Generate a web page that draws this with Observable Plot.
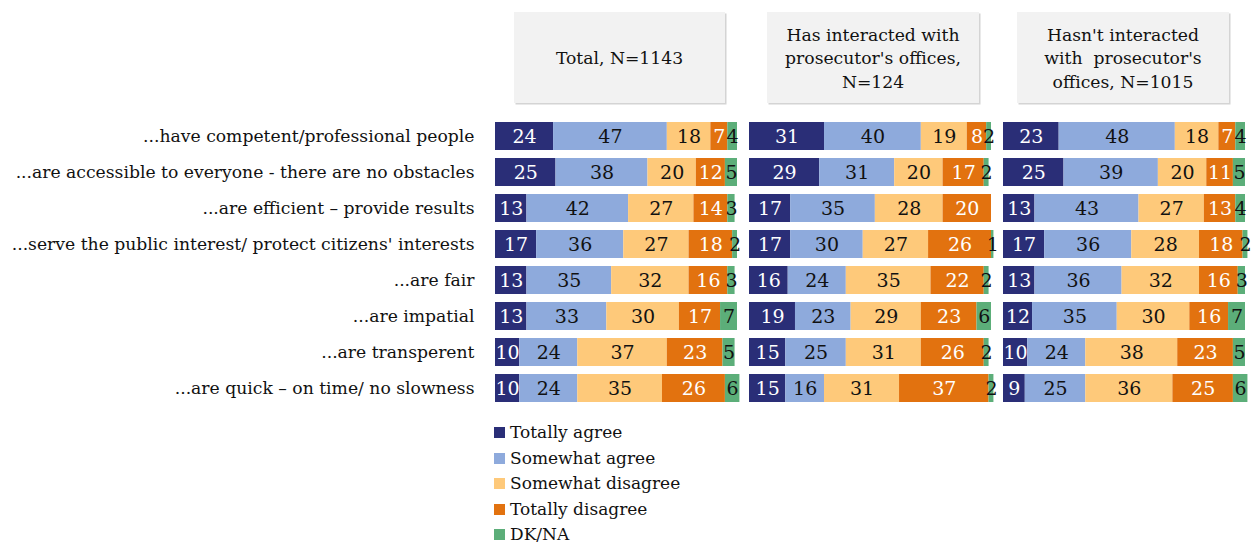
<!DOCTYPE html>
<html>
<head>
<meta charset="utf-8">
<script src="https://cdn.jsdelivr.net/npm/d3@7"></script>
<script src="https://cdn.jsdelivr.net/npm/@observablehq/plot@0.6"></script>
<style>
  body { margin: 0; background: #fff; }
  #wrap { position: relative; width: 1252px; height: 545px; font-family: "DejaVu Serif", serif; }
  #legend { position: absolute; left: 494px; top: 420px; font-size: 17px; color: #111; }
  #legend div { height: 25.5px; line-height: 25.5px; display: flex; align-items: center; }
  #legend span.sw { display: inline-block; width: 11px; height: 11px; margin-right: 5px; }
</style>
</head>
<body>
<div id="wrap"></div>
<script>
const statements = [
  "...have competent/professional people",
  "...are accessible to everyone - there are no obstacles",
  "...are efficient – provide results",
  "...serve the public interest/ protect citizens' interests",
  "...are fair",
  "...are impatial",
  "...are transperent",
  "...are quick – on time/ no slowness"
];
const categories = ["Totally agree", "Somewhat agree", "Somewhat disagree", "Totally disagree", "DK/NA"];
const colors = ["#2a2e77", "#8eaadc", "#fec97a", "#e2720f", "#5cae79"];
const groups = ["total", "interacted", "notInteracted"];
const headerLines = [
  ["Total, N=1143"],
  ["Has interacted with", "prosecutor's offices,", "N=124"],
  ["Hasn't interacted", "with  prosecutor's", "offices, N=1015"]
];
// values per statement: [Totally agree, Somewhat agree, Somewhat disagree, Totally disagree, DK/NA]
const totalValues = [
  [24, 47, 18, 7, 4],
  [25, 38, 20, 12, 5],
  [13, 42, 27, 14, 3],
  [17, 36, 27, 18, 2],
  [13, 35, 32, 16, 3],
  [13, 33, 30, 17, 7],
  [10, 24, 37, 23, 5],
  [10, 24, 35, 26, 6]
];
const interactedValues = [
  [31, 40, 19, 8, 2],
  [29, 31, 20, 17, 2],
  [17, 35, 28, 20, 0],
  [17, 30, 27, 26, 1],
  [16, 24, 35, 22, 2],
  [19, 23, 29, 23, 6],
  [15, 25, 31, 26, 2],
  [15, 16, 31, 37, 2]
];
const notInteractedValues = [
  [23, 48, 18, 7, 4],
  [25, 39, 20, 11, 5],
  [13, 43, 27, 13, 4],
  [17, 36, 28, 18, 2],
  [13, 36, 32, 16, 3],
  [12, 35, 30, 16, 7],
  [10, 24, 38, 23, 5],
  [9, 25, 36, 25, 6]
];

const valueSets = [totalValues, interactedValues, notInteractedValues];
const data = [];
groups.forEach((g, gi) => {
  statements.forEach((s, si) => {
    categories.forEach((c, ci) => {
      data.push({group: g, statement: s, category: c, value: valueSets[gi][si][ci]});
    });
  });
});
const whiteText = new Set(["Totally agree", "Totally disagree"]);

const stackOpts = (extra) => Plot.stackX({
  x: "value", y: "statement", fx: "group", z: "category", order: categories, ...extra
});

const plot = Plot.plot({
  width: 1252,
  height: 415,
  marginLeft: 494,
  marginRight: 5,
  marginTop: 114,
  marginBottom: 4,
  style: {fontFamily: "DejaVu Serif, serif", fontSize: "17px", color: "#111", background: "transparent"},
  fx: {domain: groups, paddingInner: 0.047, paddingOuter: 0, axis: null},
  x: {domain: [0, 100], axis: null},
  y: {domain: statements, padding: 0.22, label: null, axis: null},
  color: {domain: categories, range: colors},
  marks: [
    Plot.barX(data, stackOpts({fill: "category"})),
    Plot.text(data, stackOpts({text: d => d.value > 0 ? d.value : "", fill: d => whiteText.has(d.category) ? "white" : "#111", fontSize: 19})),
    Plot.axisY({tickSize: 0, tickPadding: 21, fontSize: 17.2, label: null})
  ]
});

document.getElementById("wrap").appendChild(plot);

// Header boxes positioned using the fx scale
const fx = plot.scale("fx");
const boxLayout = [[19, 211], [18, 212], [14, 212]];
const svg = d3.select(plot);
const hg = svg.append("g").attr("font-family", "DejaVu Serif, serif").attr("font-size", 17.2).attr("fill", "#111");
groups.forEach((g, i) => {
  const x0 = fx.apply(g) + boxLayout[i][0];
  const w = boxLayout[i][1];
  hg.append("rect").attr("x", x0 + 1.5).attr("y", 13.5).attr("width", w).attr("height", 91).attr("fill", "#d4d4d4");
  hg.append("rect").attr("x", x0).attr("y", 12).attr("width", w).attr("height", 91).attr("fill", "#f2f2f2");
  const lines = headerLines[i];
  const cy = 58;
  lines.forEach((t, li) => {
    hg.append("text")
      .attr("x", x0 + w / 2)
      .attr("y", cy + (li - (lines.length - 1) / 2) * 23.5)
      .attr("dy", "0.35em")
      .attr("text-anchor", "middle")
      .text(t);
  });
});

// Legend
const color = plot.scale("color");
const legend = d3.select("#wrap").append("div").attr("id", "legend");
color.domain.forEach((c) => {
  const row = legend.append("div");
  row.append("span").attr("class", "sw").style("background", color.apply(c));
  row.append("span").text(c);
});
</script>
</body>
</html>
